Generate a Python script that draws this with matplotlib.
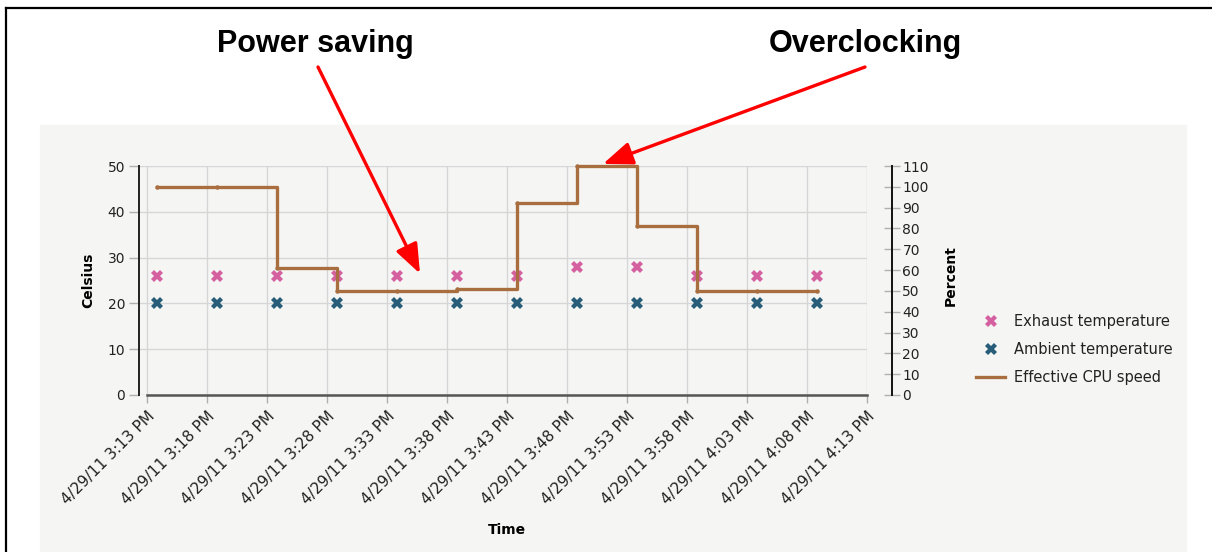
import matplotlib
matplotlib.use("Agg")
import matplotlib.pyplot as plt
import matplotlib.dates as mdates
import pandas as pd
from matplotlib.patches import Rectangle
from matplotlib.lines import Line2D

plt.rcParams['font.family'] = ['DejaVu Sans']

# samples taken every five minutes
sample_times = ["15:13:50", "15:18:50", "15:23:50", "15:28:50", "15:33:50", "15:38:50",
                "15:43:50", "15:48:50", "15:53:50", "15:58:50", "16:03:50", "16:08:50"]
exhaust_temp = [26, 26, 26, 26, 26, 26, 26, 28, 28, 26, 26, 26]
ambient_temp = [20, 20, 20, 20, 20, 20, 20, 20, 20, 20, 20, 20]
cpu_speed = [100, 100, 61, 50, 50, 51, 92, 110, 81, 50, 50, 50]

tick_labels = ["4/29/11 3:13 PM", "4/29/11 3:18 PM", "4/29/11 3:23 PM", "4/29/11 3:28 PM",
               "4/29/11 3:33 PM", "4/29/11 3:38 PM", "4/29/11 3:43 PM", "4/29/11 3:48 PM",
               "4/29/11 3:53 PM", "4/29/11 3:58 PM", "4/29/11 4:03 PM", "4/29/11 4:08 PM",
               "4/29/11 4:13 PM"]

# callouts: time and value the arrows point at
power_saving_at = ("15:35:45", 26.5)
overclocking_at = ("15:51:00", 111)

day = "2011-04-29 "
times = mdates.date2num(pd.to_datetime([day + t for t in sample_times]).to_pydatetime())
ticks = mdates.date2num(pd.to_datetime(tick_labels, format="%m/%d/%y %I:%M %p").to_pydatetime())

W, H = 1212, 552
fig = plt.figure(figsize=(W / 100, H / 100), dpi=100)
fig.patch.set_facecolor('white')

# grey panel and frame
fig.patches.append(Rectangle((40 / W, 0), (1186 - 40) / W, (H - 125) / H,
                             transform=fig.transFigure, color='#f5f6f4', zorder=-5))
fig.add_artist(Line2D([6 / W, 1], [1 - 8 / H, 1 - 8 / H], color='black', lw=1.6))
fig.add_artist(Line2D([6 / W, 6 / W], [0, 1 - 8 / H], color='black', lw=1.6))

left, right, top, bottom = 139, 867, 166, 395
ax = fig.add_axes([left / W, 1 - bottom / H, (right - left) / W, (bottom - top) / H])
ax.set_facecolor('none')

pink = '#d4609f'
blue = '#275d78'
brown = '#a96e3f'

ax.plot(times, exhaust_temp, 'X', color=pink, ms=8.5, mew=0, label='Exhaust temperature', zorder=3)
ax.plot(times, ambient_temp, 'X', color=blue, ms=8.5, mew=0, label='Ambient temperature', zorder=3)

x0 = ticks[0] - 40 / 86400
ax.set_xlim(x0, ticks[-1])
ax.set_ylim(0, 50)
ax.set_yticks(range(0, 51, 10))
ax.set_xticks(ticks)
ax.set_xticklabels(tick_labels, rotation=45, ha='right', rotation_mode='anchor')

ax.grid(True, color='#d6d6d6', lw=1)
ax.set_axisbelow(True)
ax.tick_params(axis='y', length=7, width=1, color='#b0b0b0', labelsize=10, labelcolor='#222222', pad=3)
ax.tick_params(axis='x', length=6, width=1, color='#b0b0b0', labelsize=11, labelcolor='#222222', pad=4)
for s in ('top', 'right'):
    ax.spines[s].set_visible(False)
ax.spines['left'].set_color('#222222')
ax.spines['left'].set_linewidth(1.4)
ax.spines['bottom'].set_color('#555555')
ax.spines['bottom'].set_linewidth(1.8)
ax.spines['bottom'].set_bounds(ticks[0], ticks[-1])

ax.set_ylabel('Celsius', fontweight='bold', fontsize=10)
ax.yaxis.set_label_coords((95 - left) / (right - left), 0.5)
ax.set_xlabel('Time', fontweight='bold', fontsize=10)
ax.xaxis.set_label_coords((507 - left) / (right - left), (bottom - 523) / (bottom - top))
ax.xaxis.label.set_va('top')

ax2 = ax.twinx()
ax2.set_facecolor('none')
ax2.plot(times, cpu_speed, drawstyle='steps-post', color=brown, lw=2.4,
         marker='o', ms=2.2, label='Effective CPU speed', zorder=4, clip_on=False)
ax2.set_ylim(0, 110)
ax2.set_yticks(range(0, 111, 10))
for s in ('top', 'left', 'bottom'):
    ax2.spines[s].set_visible(False)
ax2.spines['right'].set_position(('outward', 18))
ax2.spines['right'].set_color('#111111')
ax2.spines['right'].set_linewidth(1.4)
ax2.tick_params(axis='y', direction='inout', length=11, width=1, color='#b0b0b0',
                labelsize=10, labelcolor='#222222', pad=2)
ax2.set_ylabel('Percent', fontweight='bold', fontsize=10)
ax2.yaxis.set_label_coords((944 - left) / (right - left), 0.52)

# legend
labels = ['Exhaust temperature', 'Ambient temperature', 'Effective CPU speed']
leg_handles = [Line2D([], [], ls='none', marker='X', color=pink, ms=8.5, mew=0),
               Line2D([], [], ls='none', marker='X', color=blue, ms=8.5, mew=0),
               Line2D([], [], color=brown, lw=2.4)]
fig.legend(leg_handles, labels,
           loc='upper left', bbox_to_anchor=(963 / W, 1 - 301 / H),
           frameon=False, fontsize=10.5, labelspacing=0.88, handlelength=2.0,
           handletextpad=0.6, labelcolor='#222222')

# callouts
fig.text(315 / W, 1 - 44 / H, 'Power saving', family='Liberation Sans', fontweight='bold',
         fontsize=22, ha='center', va='center')
fig.text(865 / W, 1 - 44 / H, 'Overclocking', family='Liberation Sans', fontweight='bold',
         fontsize=22, ha='center', va='center')
arrow = dict(arrowstyle='-|>,head_length=1.8,head_width=0.7', color='#ff0000',
             lw=2.4, shrinkA=0, shrinkB=0, mutation_scale=10)
ax.annotate('', xy=(mdates.date2num(pd.Timestamp(day + power_saving_at[0])), power_saving_at[1]),
            xytext=(318, H - 67), textcoords='figure pixels', arrowprops=arrow,
            annotation_clip=False)
ax2.annotate('', xy=(mdates.date2num(pd.Timestamp(day + overclocking_at[0])), overclocking_at[1]),
             xytext=(865, H - 67), textcoords='figure pixels', arrowprops=arrow,
             annotation_clip=False)

fig.savefig('out.png', dpi=100)
